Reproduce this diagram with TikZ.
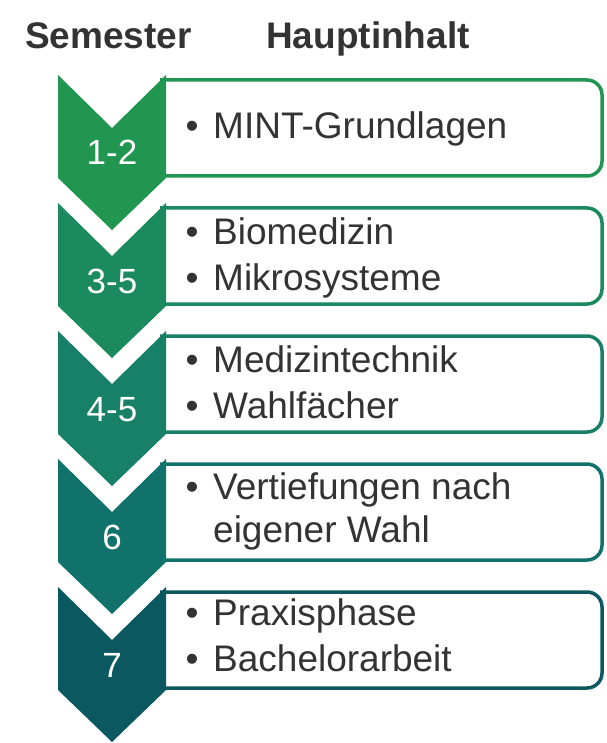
\documentclass[tikz,border=0pt]{standalone}
\usepackage{fontspec}
\setmainfont{Liberation Sans}
\definecolor{cA}{RGB}{33,150,80}
\definecolor{cB}{RGB}{27,138,94}
\definecolor{cC}{RGB}{23,128,102}
\definecolor{cD}{RGB}{16,114,107}
\definecolor{cE}{RGB}{11,88,97}
\definecolor{txt}{RGB}{51,51,51}
\newcommand\stagebox[2]{%
  \draw[#2, line width=3.5pt, rounded corners=15pt]
    (160,{#1+5}) -- (602,{#1+5}) -- (602,{#1+101}) -- (160,{#1+101});
  \fill[#2] (58,#1) -- (112,{#1+53}) -- (166,#1) -- (166,{#1+103})
    -- (112,{#1+155}) -- (58,{#1+103}) -- cycle;
}
\tikzset{
  hdr/.style={inner sep=0pt, anchor=base west, text=txt, font=\fontsize{37}{42}\selectfont\bfseries},
  item/.style={inner sep=0pt, anchor=base west, text=txt, font=\fontsize{37}{42}\selectfont},
  bul/.style={inner sep=0pt, anchor=base, text=txt, font=\fontsize{37}{42}\selectfont},
  num/.style={inner sep=0pt, anchor=base, text=white, font=\fontsize{35}{40}\selectfont},
}
\begin{document}
\begin{tikzpicture}[x=1pt, y=-1pt]
\useasboundingbox[fill=white] (0,0) rectangle (606,743);
\node[hdr] (hs) at (25,49) {Semester};
\node[hdr] (hh) at (266,49) {Hauptinhalt};
\stagebox{75}{cA}
\stagebox{203}{cB}
\stagebox{331}{cC}
\stagebox{459}{cD}
\stagebox{587}{cE}
\node[num] (n1) at (112,165) {1-2};
\node[num] (n2) at (112,293) {3-5};
\node[num] (n3) at (112,421) {4-5};
\node[num] (n4) at (112,549) {6};
\node[num] (n5) at (112,677) {7};
% box 1
\node[bul] (b1) at (192,139) {•};
\node[item] (t1) at (213,139) {MINT-Grundlagen};
% box 2
\node[bul] (b2a) at (192,244) {•};
\node[item] (t2a) at (213,244) {Biomedizin};
\node[bul] (b2b) at (192,290) {•};
\node[item] (t2b) at (213,290) {Mikrosysteme};
% box 3
\node[bul] (b3a) at (192,372) {•};
\node[item] (t3a) at (213,372) {Medizintechnik};
\node[bul] (b3b) at (192,418) {•};
\node[item] (t3b) at (213,418) {Wahlfächer};
% box 4
\node[bul] (b4) at (192,499) {•};
\node[item] (t4a) at (213,499) {Vertiefungen nach};
\node[item] (t4b) at (213,542) {eigener Wahl};
% box 5
\node[bul] (b5a) at (192,625) {•};
\node[item] (t5a) at (213,625) {Praxisphase};
\node[bul] (b5b) at (192,671) {•};
\node[item] (t5b) at (213,671) {Bachelorarbeit};
\end{tikzpicture}
\end{document}
